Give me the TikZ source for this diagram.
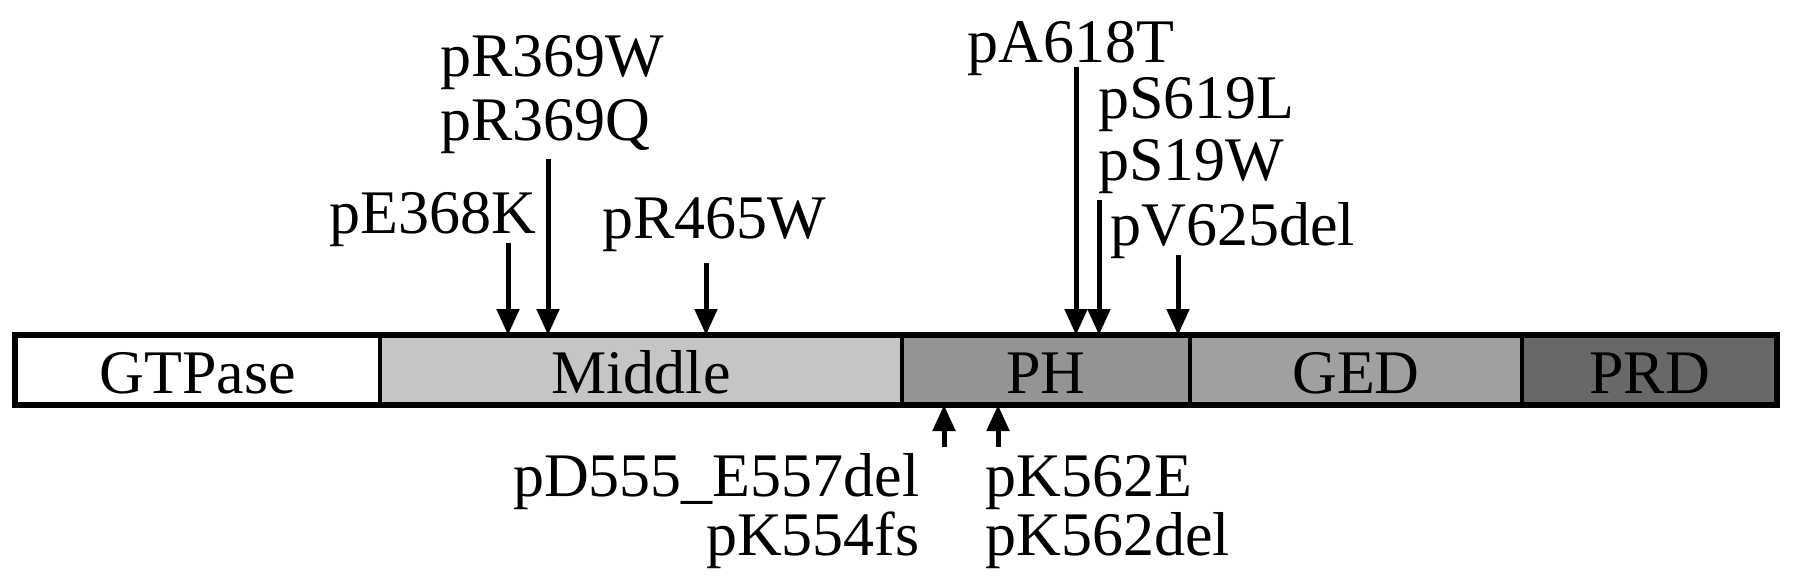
\documentclass[tikz,border=0pt]{standalone}
\usepackage{fontspec}
\setmainfont{Liberation Serif}
\usetikzlibrary{arrows.meta}
\definecolor{midgray}{RGB}{197,197,197}
\definecolor{phgray}{RGB}{148,148,148}
\definecolor{gedgray}{RGB}{160,160,160}
\definecolor{prdgray}{RGB}{104,104,104}
\tikzset{
  seg/.style={draw,line width=2pt,minimum height=35pt,inner sep=0pt,outer sep=0pt,text height=23pt,text depth=0pt},
  mut/.style={line width=2.5pt,-{Triangle[length=13pt,width=11pt]}},
  lab/.style={inner sep=0pt,anchor=base west}
}
\begin{document}
\begin{tikzpicture}[x=0.5pt,y=-0.5pt,font=\fontsize{31}{37}\selectfont]
\useasboundingbox (0,0) rectangle (1795,586);
% domains
\node[seg,fill=white,minimum width=182.5pt] (gtp) at (197.5,370) {GTPase};
\node[seg,fill=midgray,minimum width=261pt] (mid) at (641,370) {Middle};
\node[seg,fill=phgray,minimum width=144pt] (ph) at (1046,370) {PH};
\node[seg,fill=gedgray,minimum width=166pt] (ged) at (1356,370) {GED};
\node[seg,fill=prdgray,minimum width=127.5pt] (prd) at (1649.5,370) {PRD};
\draw[line width=3pt] (gtp.north west) rectangle (prd.south east);
% mutations above
\node[lab] (r369w) at (440,76) {pR369W};
\node[lab] (r369q) at (440,140) {pR369Q};
\node[lab] (e368k) at (329,233) {pE368K};
\node[lab] (r465w) at (602,238) {pR465W};
\node[lab] (a618t) at (967,62) {pA618T};
\node[lab] (s619l) at (1098,118) {pS619L};
\node[lab] (s19w) at (1098,180) {pS19W};
\node[lab] (v625del) at (1110,245) {pV625del};
\foreach \m/\x/\y in {e368k/508/243,r369q/548/159,r465w/706/263,a618t/1076/67,s619l/1099/200,v625del/1178/255}{
  \coordinate (\m-t) at (\x,\y);
  \draw[mut] (\m-t) -- (\m-t |- gtp.north);
}
% mutations below
\node[lab,anchor=base east] (d555del) at (920,496) {pD555\_E557del};
\node[lab,anchor=base east] (k554fs) at (920,555) {pK554fs};
\node[lab] (k562e) at (985,496) {pK562E};
\node[lab] (k562del) at (985,555) {pK562del};
\foreach \m/\x in {k554fs/944,k562e/998}{
  \coordinate (\m-t) at (\x,447);
  \draw[mut] (\m-t) -- (\m-t |- ph.south);
}
\end{tikzpicture}
\end{document}
